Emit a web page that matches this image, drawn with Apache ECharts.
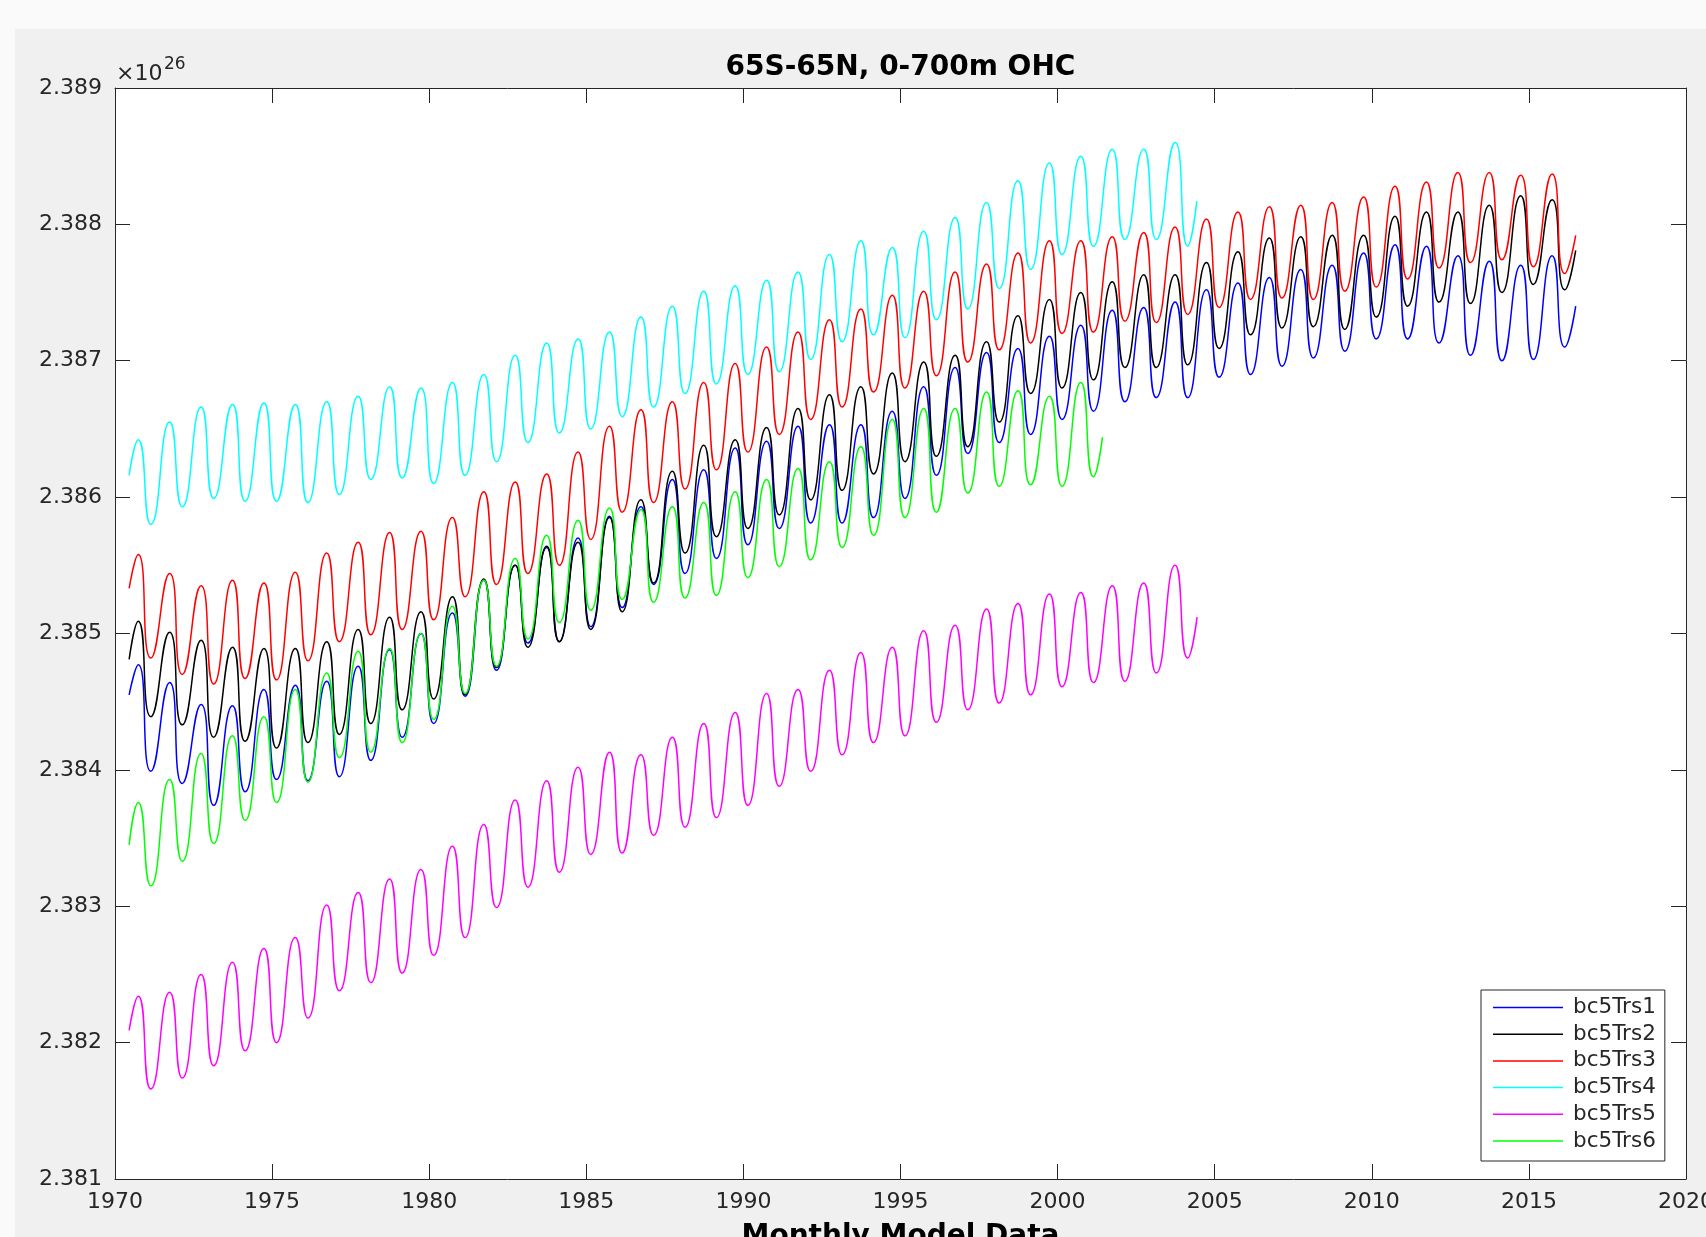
<!DOCTYPE html>
<html><head><meta charset="utf-8">
<script src="https://cdn.jsdelivr.net/npm/echarts@6/dist/echarts.min.js"></script>
<style>
html,body{margin:0;padding:0;background:#fafafa;width:1706px;height:1237px;overflow:hidden;}
#chart{position:absolute;left:15px;top:29px;width:1691px;height:1208px;background:#f0f0f0;}
</style></head><body><div id="chart"></div>
<script>
// ---- data (values in units of 1e26) ----
const seriesNames = ['bc5Trs1', 'bc5Trs2', 'bc5Trs3', 'bc5Trs4', 'bc5Trs5', 'bc5Trs6'];
const seriesColors = ['#0000ff', '#000000', '#ff0000', '#00ffff', '#ff00ff', '#00ff00'];
const FIRST_YEAR = 1970;
const PEAK_OFFSET = 0.74;    // annual maximum, fraction of year
const TROUGH_OFFSET = 1.14;  // following annual minimum
const startTime = 1970.45;
const startValues = [2.38455, 2.38481, 2.38533, 2.38616, 2.38209, 2.38345];
const endTimes = [2016.49, 2016.49, 2016.49, 2004.43, 2004.44, 2001.43];
const endValues = [2.38740, 2.38781, 2.38792, 2.38817, 2.38512, 2.38644];

const bc5Trs1Peaks = [2.38477, 2.38464, 2.38448, 2.38447, 2.38459, 2.38462, 2.38465, 2.38476, 2.38488, 2.38500, 2.38515, 2.38539, 2.38550, 2.38563, 2.38570, 2.38586, 2.38593, 2.38613, 2.38620, 2.38636, 2.38641, 2.38652, 2.38653, 2.38653, 2.38663, 2.38681, 2.38695, 2.38706, 2.38709, 2.38718, 2.38726, 2.38737, 2.38739, 2.38743, 2.38752, 2.38757, 2.38761, 2.38767, 2.38770, 2.38779, 2.38785, 2.38784, 2.38777, 2.38773, 2.38770, 2.38777];
const bc5Trs1Troughs = [2.38399, 2.38390, 2.38374, 2.38384, 2.38393, 2.38392, 2.38395, 2.38407, 2.38424, 2.38434, 2.38454, 2.38473, 2.38493, 2.38494, 2.38505, 2.38519, 2.38536, 2.38544, 2.38555, 2.38565, 2.38577, 2.38581, 2.38581, 2.38585, 2.38599, 2.38616, 2.38632, 2.38640, 2.38646, 2.38657, 2.38663, 2.38670, 2.38673, 2.38673, 2.38688, 2.38690, 2.38696, 2.38702, 2.38707, 2.38716, 2.38716, 2.38713, 2.38704, 2.38700, 2.38701, 2.38710];

const bc5Trs2Peaks = [2.38509, 2.38501, 2.38495, 2.38490, 2.38489, 2.38489, 2.38494, 2.38503, 2.38512, 2.38516, 2.38527, 2.38540, 2.38550, 2.38564, 2.38567, 2.38585, 2.38598, 2.38619, 2.38638, 2.38642, 2.38651, 2.38665, 2.38675, 2.38681, 2.38691, 2.38699, 2.38704, 2.38714, 2.38733, 2.38745, 2.38750, 2.38758, 2.38763, 2.38763, 2.38772, 2.38780, 2.38790, 2.38791, 2.38792, 2.38792, 2.38806, 2.38809, 2.38809, 2.38814, 2.38821, 2.38818];
const bc5Trs2Troughs = [2.38439, 2.38433, 2.38424, 2.38421, 2.38416, 2.38420, 2.38426, 2.38434, 2.38444, 2.38452, 2.38455, 2.38475, 2.38490, 2.38494, 2.38503, 2.38516, 2.38537, 2.38559, 2.38571, 2.38577, 2.38587, 2.38598, 2.38605, 2.38617, 2.38626, 2.38630, 2.38637, 2.38655, 2.38676, 2.38680, 2.38686, 2.38695, 2.38695, 2.38697, 2.38709, 2.38719, 2.38724, 2.38725, 2.38723, 2.38732, 2.38740, 2.38743, 2.38742, 2.38750, 2.38756, 2.38752];

const bc5Trs3Peaks = [2.38558, 2.38544, 2.38535, 2.38539, 2.38537, 2.38545, 2.38559, 2.38567, 2.38574, 2.38575, 2.38585, 2.38604, 2.38611, 2.38617, 2.38633, 2.38652, 2.38664, 2.38670, 2.38684, 2.38698, 2.38710, 2.38721, 2.38730, 2.38738, 2.38748, 2.38751, 2.38765, 2.38771, 2.38779, 2.38788, 2.38788, 2.38791, 2.38794, 2.38798, 2.38804, 2.38809, 2.38813, 2.38814, 2.38816, 2.38820, 2.38828, 2.38831, 2.38838, 2.38838, 2.38836, 2.38837];
const bc5Trs3Troughs = [2.38482, 2.38470, 2.38463, 2.38467, 2.38466, 2.38480, 2.38494, 2.38499, 2.38503, 2.38510, 2.38527, 2.38536, 2.38544, 2.38550, 2.38569, 2.38589, 2.38596, 2.38606, 2.38620, 2.38633, 2.38646, 2.38657, 2.38666, 2.38677, 2.38680, 2.38689, 2.38699, 2.38708, 2.38713, 2.38720, 2.38721, 2.38729, 2.38728, 2.38734, 2.38739, 2.38745, 2.38746, 2.38745, 2.38751, 2.38754, 2.38760, 2.38768, 2.38772, 2.38774, 2.38769, 2.38764];

const bc5Trs4Peaks = [2.38642, 2.38655, 2.38666, 2.38668, 2.38669, 2.38668, 2.38670, 2.38674, 2.38681, 2.38680, 2.38684, 2.38690, 2.38704, 2.38713, 2.38716, 2.38721, 2.38732, 2.38740, 2.38751, 2.38755, 2.38759, 2.38765, 2.38778, 2.38788, 2.38783, 2.38795, 2.38805, 2.38816, 2.38832, 2.38845, 2.38850, 2.38855, 2.38855, 2.38860];
const bc5Trs4Troughs = [2.38580, 2.38593, 2.38599, 2.38597, 2.38597, 2.38596, 2.38602, 2.38613, 2.38614, 2.38610, 2.38616, 2.38626, 2.38640, 2.38647, 2.38650, 2.38659, 2.38666, 2.38676, 2.38683, 2.38690, 2.38692, 2.38701, 2.38714, 2.38719, 2.38717, 2.38730, 2.38738, 2.38753, 2.38767, 2.38778, 2.38784, 2.38789, 2.38789, 2.38784];

const bc5Trs5Peaks = [2.38234, 2.38237, 2.38250, 2.38259, 2.38269, 2.38277, 2.38301, 2.38310, 2.38320, 2.38327, 2.38344, 2.38360, 2.38378, 2.38392, 2.38402, 2.38413, 2.38411, 2.38424, 2.38434, 2.38442, 2.38456, 2.38459, 2.38473, 2.38486, 2.38490, 2.38502, 2.38506, 2.38518, 2.38522, 2.38529, 2.38530, 2.38535, 2.38537, 2.38550];
const bc5Trs5Troughs = [2.38166, 2.38174, 2.38183, 2.38194, 2.38200, 2.38218, 2.38238, 2.38244, 2.38251, 2.38264, 2.38277, 2.38299, 2.38314, 2.38325, 2.38338, 2.38339, 2.38352, 2.38358, 2.38365, 2.38374, 2.38388, 2.38399, 2.38411, 2.38420, 2.38425, 2.38435, 2.38444, 2.38449, 2.38455, 2.38461, 2.38464, 2.38465, 2.38471, 2.38482];

const bc5Trs6Peaks = [2.38376, 2.38393, 2.38412, 2.38425, 2.38439, 2.38459, 2.38471, 2.38487, 2.38489, 2.38500, 2.38520, 2.38539, 2.38555, 2.38572, 2.38583, 2.38592, 2.38591, 2.38593, 2.38596, 2.38604, 2.38613, 2.38621, 2.38626, 2.38637, 2.38657, 2.38665, 2.38665, 2.38677, 2.38678, 2.38674, 2.38684];
const bc5Trs6Troughs = [2.38315, 2.38333, 2.38346, 2.38363, 2.38376, 2.38391, 2.38409, 2.38413, 2.38420, 2.38437, 2.38456, 2.38476, 2.38496, 2.38508, 2.38517, 2.38525, 2.38523, 2.38526, 2.38528, 2.38541, 2.38549, 2.38554, 2.38563, 2.38572, 2.38585, 2.38589, 2.38603, 2.38608, 2.38609, 2.38608, 2.38615];

const peakLists = [bc5Trs1Peaks, bc5Trs2Peaks, bc5Trs3Peaks, bc5Trs4Peaks, bc5Trs5Peaks, bc5Trs6Peaks];
const troughLists = [bc5Trs1Troughs, bc5Trs2Troughs, bc5Trs3Troughs, bc5Trs4Troughs, bc5Trs5Troughs, bc5Trs6Troughs];

const xMin = 1970, xMax = 2020, xStep = 5;
const yMin = 2.381, yMax = 2.389, yStep = 0.001;

function buildPoints(k) {
  const pts = [[startTime, startValues[k]]];
  const p = peakLists[k], t = troughLists[k];
  for (let i = 0; i < p.length; i++) {
    pts.push([FIRST_YEAR + i + PEAK_OFFSET, p[i]]);
    pts.push([FIRST_YEAR + i + TROUGH_OFFSET, t[i]]);
  }
  pts.push([endTimes[k], endValues[k]]);
  return pts;
}

const FONT = '"DejaVu Sans", sans-serif';
const AX = '#262626';
const chart = echarts.init(document.getElementById('chart'), null, {renderer: 'canvas'});

const baseAxis = {
  type: 'value',
  axisLine: {show: true, onZero: false, lineStyle: {color: AX, width: 1}},
  axisTick: {show: true, inside: true, length: 15, lineStyle: {color: AX, width: 1}},
  splitLine: {show: false},
  minorTick: {show: false}
};

chart.setOption({
  animation: false,
  backgroundColor: '#f0f0f0',
  textStyle: {fontFamily: FONT},
  grid: {left: 100, right: 20, top: 59, bottom: 58, show: true, backgroundColor: '#ffffff', borderWidth: 0,
    containLabel: false, outerBoundsMode: 'none'},
  xAxis: [
    Object.assign({}, baseAxis, {
      position: 'bottom', min: xMin, max: xMax, interval: xStep,
      axisLabel: {show: true, fontSize: 22, color: AX, fontFamily: FONT, margin: 12, formatter: v => String(v)},
      name: 'Monthly Model Data', nameLocation: 'middle', nameGap: 44,
      nameTextStyle: {fontSize: 28, fontWeight: 'bold', color: '#000', fontFamily: FONT}
    }),
    Object.assign({}, baseAxis, {
      position: 'top', min: xMin, max: xMax, interval: xStep,
      axisLabel: {show: false}
    })
  ],
  yAxis: [
    Object.assign({}, baseAxis, {
      position: 'left', min: yMin, max: yMax, interval: yStep,
      axisLabel: {show: true, fontSize: 22, color: AX, fontFamily: FONT, margin: 13, formatter: v => v.toFixed(3)}
    }),
    Object.assign({}, baseAxis, {
      position: 'right', min: yMin, max: yMax, interval: yStep,
      axisLabel: {show: false}
    })
  ],
  legend: {
    data: seriesNames,
    orient: 'vertical',
    left: 1466, top: 961,
    icon: 'rect',
    itemWidth: 70, itemHeight: 1.5, itemGap: 4.7,
    padding: [6.5, 9, 9, 12],
    backgroundColor: '#ffffff', borderColor: AX, borderWidth: 1, borderRadius: 0,
    selectedMode: false,
    textStyle: {fontSize: 21.5, color: '#262626', fontFamily: FONT, padding: [0, 0, 0, 5]}
  },
  graphic: [
    {type: 'text', x: 885.5, y: 39, silent: true,
      style: {text: '65S-65N, 0-700m OHC', fontSize: 28, fontWeight: 'bold', fontFamily: FONT, fill: '#000', align: 'center', verticalAlign: 'middle'}},
    {type: 'text', x: 101, y: 45, silent: true,
      style: {text: '×10', fontSize: 22, fontFamily: FONT, fill: AX, align: 'left', verticalAlign: 'middle'}},
    {type: 'text', x: 149, y: 36, silent: true,
      style: {text: '26', fontSize: 17, fontFamily: FONT, fill: AX, align: 'left', verticalAlign: 'middle'}}
  ],
  series: seriesNames.map((name, k) => ({
    name: name,
    type: 'line',
    xAxisIndex: 0, yAxisIndex: 0,
    data: buildPoints(k),
    symbol: 'none', showSymbol: false,
    smooth: 0.6,
    silent: true,
    lineStyle: {color: seriesColors[k], width: 1.5},
    itemStyle: {color: seriesColors[k]},
    emphasis: {disabled: true}
  }))
});
</script></body></html>
